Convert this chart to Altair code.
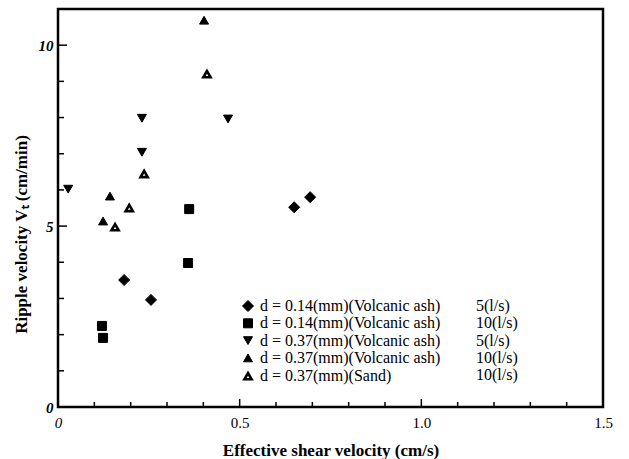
import altair as alt
import pandas as pd

# ---- data ----
series_keys = [
    "d = 0.14(mm)(Volcanic ash)|5(l/s)",
    "d = 0.14(mm)(Volcanic ash)|10(l/s)",
    "d = 0.37(mm)(Volcanic ash)|5(l/s)",
    "d = 0.37(mm)(Volcanic ash)|10(l/s)",
    "d = 0.37(mm)(Sand)|10(l/s)",
]
s1_x = [0.650, 0.694, 0.182, 0.256]
s1_y = [5.52, 5.80, 3.51, 2.96]
s2_x = [0.361, 0.358, 0.121, 0.124]
s2_y = [5.47, 3.98, 2.24, 1.91]
s3_x = [0.028, 0.231, 0.231, 0.468]
s3_y = [6.02, 7.98, 7.04, 7.96]
s4_x = [0.402, 0.143, 0.124]
s4_y = [10.69, 5.83, 5.14]
s5_x = [0.410, 0.237, 0.196, 0.157]
s5_y = [9.20, 6.44, 5.50, 4.97]

x_major = [0, 0.5, 1.0, 1.5]
x_minor = [0.1, 0.2, 0.3, 0.4, 0.6, 0.7, 0.8, 0.9, 1.1, 1.2, 1.3, 1.4]
y_major = [0, 5, 10]
y_minor = [1, 2, 3, 4, 6, 7, 8, 9]

shapes = ["diamond", "square", "triangle-down", "triangle-up", "triangle-up"]
fills = ["black", "black", "black", "black", "white"]
stroke_colors = ["black"] * 5
sizes = [121, 81, 81, 81, 52]
stroke_widths = [1, 1, 1, 1, 2.6]

rows = []
for key, xs, ys in zip(series_keys, [s1_x, s2_x, s3_x, s4_x, s5_x],
                       [s1_y, s2_y, s3_y, s4_y, s5_y]):
    for xv, yv in zip(xs, ys):
        rows.append({"x": xv, "y": yv, "series": key, "flowkey": "f:" + key})
df = pd.DataFrame(rows)
flow_keys = ["f:" + k for k in series_keys]

W, H = 545, 398
FONT = "Liberation Serif"

xscale = alt.Scale(domain=[0, 1.5], nice=False, zero=False)
yscale = alt.Scale(domain=[0, 11], nice=False, zero=False)

legend1 = alt.Legend(
    title=None, orient="none", legendX=182, legendY=289, padding=0,
    labelExpr="split(datum.label, '|')[0]", labelFont=FONT, labelFontSize=16,
    labelColor="black", labelOffset=4, rowPadding=1.3, symbolOpacity=1,
    symbolStrokeColor="black", labelLimit=400,
)
legend2 = alt.Legend(
    title=None, orient="none", legendX=402, legendY=289, padding=0,
    labelExpr="split(datum.label, '|')[1]", labelFont=FONT, labelFontSize=16,
    labelColor="black", labelOffset=0, rowPadding=1.3, symbolOpacity=0,
    symbolSize=1, symbolStrokeWidth=0, labelLimit=200,
)

x_axis = alt.Axis(
    values=x_major, labelExpr="datum.value == 0 ? '0' : format(datum.value, '.1f')",
    ticks=False, tickSize=0, domain=False, grid=False, labelFlush=False,
    title="Effective shear velocity (cm/s)", titleFont=FONT, titleFontSize=17,
    titleFontWeight="bold", titleColor="black", titleY=43, titleBaseline="middle",
    labelFont=FONT, labelFontSize=15, labelColor="black", labelPadding=8,
    labelFontStyle={"condition": {"test": "datum.value === 0", "value": "italic"}, "value": "normal"},
)
y_axis = alt.Axis(
    values=y_major, format="d", ticks=False, tickSize=0, domain=False, grid=False,
    labelFlush=False,
    title="Ripple velocity Vₜ (cm/min)", titleFont=FONT, titleFontSize=17,
    titleFontWeight="bold", titleColor="black", titleX=-37, titleY=225,
    titleBaseline="middle", titleAngle=270,
    labelFont=FONT, labelFontSize=15, labelColor="black", labelPadding=5,
    labelFontStyle="italic", labelFontWeight="bold",
)

base = alt.Chart(df)
points = base.mark_point(opacity=1, filled=False).encode(
    x=alt.X("x:Q", scale=xscale, axis=x_axis),
    y=alt.Y("y:Q", scale=yscale, axis=y_axis),
    shape=alt.Shape("series:N", scale=alt.Scale(domain=series_keys, range=shapes), legend=legend1),
    fill=alt.Fill("series:N", scale=alt.Scale(domain=series_keys, range=fills), legend=legend1),
    stroke=alt.Stroke("series:N", scale=alt.Scale(domain=series_keys, range=stroke_colors), legend=legend1),
    size=alt.Size("series:N", scale=alt.Scale(type="ordinal", domain=series_keys, range=sizes), legend=legend1),
    strokeWidth=alt.StrokeWidth("series:N", scale=alt.Scale(type="ordinal", domain=series_keys, range=stroke_widths), legend=legend1),
)
flow_layer = base.mark_point(opacity=0).encode(
    x=alt.X("x:Q", scale=xscale),
    y=alt.Y("y:Q", scale=yscale),
    color=alt.Color("flowkey:N", scale=alt.Scale(domain=flow_keys), legend=legend2),
)

def xticks(vals, length):
    return alt.Chart(pd.DataFrame({"v": vals})).mark_rule(color="black", strokeWidth=1.5).encode(
        x=alt.X("v:Q", scale=xscale), y=alt.value(H), y2=alt.value(H - length))

def yticks(vals, length):
    return alt.Chart(pd.DataFrame({"v": vals})).mark_rule(color="black", strokeWidth=1.5).encode(
        y=alt.Y("v:Q", scale=yscale), x=alt.value(0), x2=alt.value(length))

chart = alt.layer(
    xticks(x_major, 8), xticks(x_minor, 5), yticks(y_major, 9), yticks(y_minor, 6),
    flow_layer, points,
).properties(
    width=W, height=H,
    autosize=alt.AutoSizeParams(type="none"),
    padding={"left": 58, "top": 9, "right": 26, "bottom": 52},
).configure(background="white").configure_view(stroke="black", strokeWidth=2.5)

chart.save("out.html", embed_options={"renderer": "svg", "actions": False})
